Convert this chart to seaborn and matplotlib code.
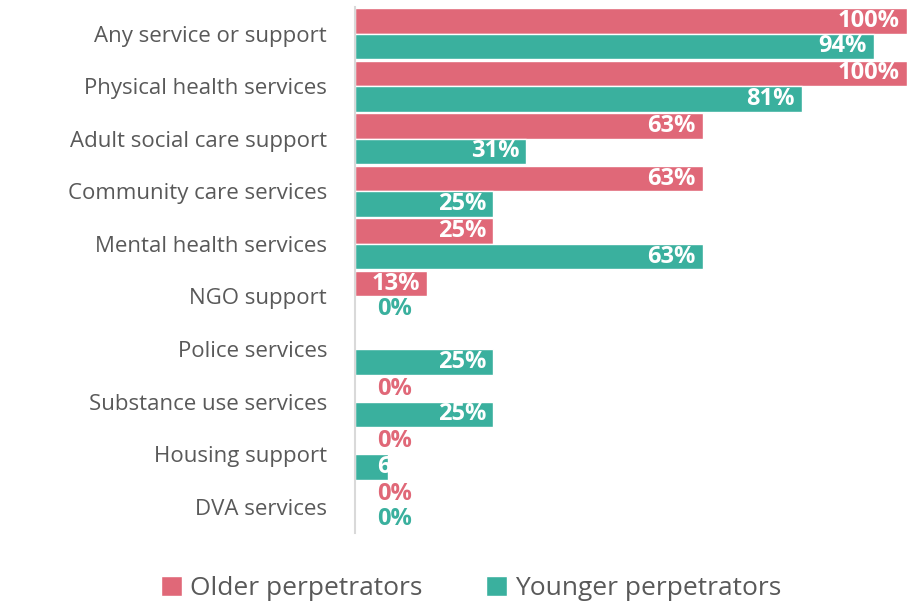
import numpy as np
import pandas as pd
import matplotlib
matplotlib.use("Agg")
import matplotlib.pyplot as plt
import seaborn as sns

categories = ["Any service or support", "Physical health services", "Adult social care support",
              "Community care services", "Mental health services", "NGO support", "Police services",
              "Substance use services", "Housing support", "DVA services"]
older = [100, 100, 63, 63, 25, 13, np.nan, 0, 0, 0]
younger = [94, 81, 31, 25, 63, 0, 25, 25, 6, 0]
groups = ["Older perpetrators", "Younger perpetrators"]
colors = ["#E06878", "#3AB09E"]

df = pd.DataFrame({
    "service": categories * 2,
    "group": [groups[0]] * len(categories) + [groups[1]] * len(categories),
    "pct": older + younger,
})

sns.set_style("white")
plt.rcParams["font.family"] = ["Open Sans", "DejaVu Sans"]

fig = plt.figure(figsize=(9.15, 6.04), dpi=100)
ax = fig.add_axes([0.388, 0.1175, 0.603, 0.8705])

sns.barplot(data=df, y="service", x="pct", hue="group", order=categories, hue_order=groups,
            palette=colors, width=0.97, edgecolor="white", linewidth=1, saturation=1,
            errorbar=None, ax=ax)

# value labels
for cont, col in zip(ax.containers, colors):
    for bar in cont:
        v = bar.get_width()
        if np.isnan(v):
            continue
        yc = bar.get_y() + bar.get_height() / 2
        ax.annotate(f"{v:.0f}%", xy=(max(v, 11.5), yc), xytext=(-5, 0), textcoords="offset points",
                    ha="right", va="center", fontsize=17, fontweight="bold",
                    color="white" if v > 0 else col, clip_on=False)

ax.set_xlim(0, 100)
ax.set_ylim(9.5, -0.5)
ax.set_xlabel("")
ax.set_ylabel("")
ax.set_xticks([])
ax.tick_params(axis="y", length=0, pad=20, labelsize=16, labelcolor="#595959")
for s in ["top", "right", "bottom"]:
    ax.spines[s].set_visible(False)
ax.spines["left"].set_color("#D9D9D9")
ax.spines["left"].set_linewidth(1.5)

handles, labels = ax.get_legend_handles_labels()
ax.legend_.remove()
fig.legend(handles, labels, loc="lower center", bbox_to_anchor=(0.515, -0.035), ncol=2, frameon=False,
           handlelength=0.8, handleheight=0.8, handletextpad=0.3, columnspacing=2.4,
           prop={"size": 19}, labelcolor="#595959")

fig.savefig("out.png", dpi=100)
